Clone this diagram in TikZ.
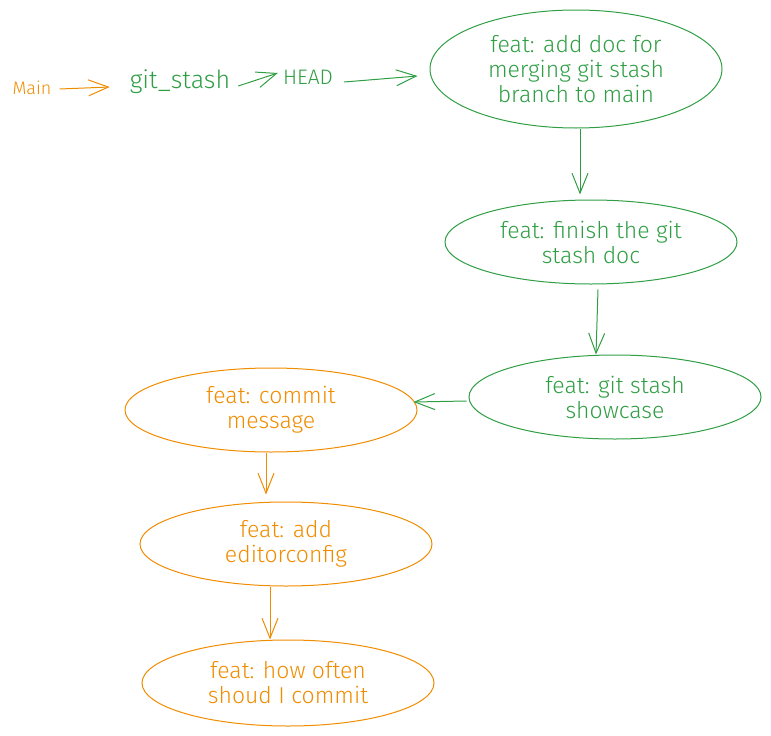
\documentclass[tikz,border=0pt]{standalone}
\usepackage{fontspec}
\setmainfont{Fira Sans}[UprightFont=* Light]
\usetikzlibrary{arrows.meta,shapes.geometric}
\definecolor{exgreen}{HTML}{2F9E44}
\definecolor{exorange}{HTML}{F08C00}
\tikzset{
  commit/.style={ellipse, draw, line width=1pt, inner sep=0pt,
    minimum width=292pt, minimum height=84pt, align=center,
    font=\fontsize{23}{25}\selectfont},
  gcommit/.style={commit, draw=exgreen, text=exgreen},
  ocommit/.style={commit, draw=exorange, text=exorange},
  lbl/.style={inner sep=0pt, font=\fontsize{23}{25}\selectfont},
  conn/.style={line width=1pt, -{Straight Barb[length=20pt,width=16pt,line width=1pt]}},
}
\begin{document}
\begin{tikzpicture}[x=1pt,y=-1pt]
\useasboundingbox (0,0) rectangle (771,736);
% commit ellipses
\node[gcommit, minimum height=118pt] (c1) at (576,69) {feat: add doc for\\merging git stash\\branch to main};
\node[gcommit] (c2) at (591,242) {feat: finish the git\\stash doc};
\node[gcommit] (c3) at (615,397) {feat: git stash\\showcase};
\node[ocommit] (c4) at (271,410) {feat: commit\\message};
\node[ocommit] (c5) at (286,544) {feat: add\\editorconfig};
\node[ocommit, minimum height=86pt] (c6) at (288,683) {feat: how often\\shoud I commit};
% pointer labels
\node[lbl, text=exorange, font=\fontsize{18}{22}\selectfont] (main) at (32,88) {Main};
\node[lbl, text=exgreen, font=\fontsize{25}{25}\selectfont] (gs) at (180,82) {git\_stash};
\node[lbl, text=exgreen, font=\fontsize{21}{25}\selectfont] (head) at (308,77) {HEAD};
% connectors
\draw[conn, exorange] ([xshift=8pt,yshift=-1pt]main.east) -- ([xshift=-20pt,yshift=-5pt]gs.west);
\draw[conn, exgreen] ([xshift=8pt,yshift=-4pt]gs.east) -- ([xshift=-5pt,yshift=4pt]head.west);
\draw[conn, exgreen] ([xshift=11pt,yshift=-5pt]head.east) -- ([xshift=-12pt,yshift=-7pt]c1.west);
\draw[conn, exgreen] ([xshift=4pt]c1.south) -- ([xshift=-11pt,yshift=5pt]c2.north);
\draw[conn, exgreen] ([xshift=7pt,yshift=-5pt]c2.south) -- ([xshift=-19pt]c3.north);
\draw[conn, exgreen] ([xshift=-2pt,yshift=-4pt]c3.west) -- ([xshift=-4pt,yshift=8pt]c4.east);
\draw[conn, exorange] ([xshift=-5pt]c4.south) -- ([xshift=-20pt,yshift=7pt]c5.north);
\draw[conn, exorange] ([xshift=-16pt]c5.south) -- ([xshift=-18pt]c6.north);
\end{tikzpicture}
\end{document}
